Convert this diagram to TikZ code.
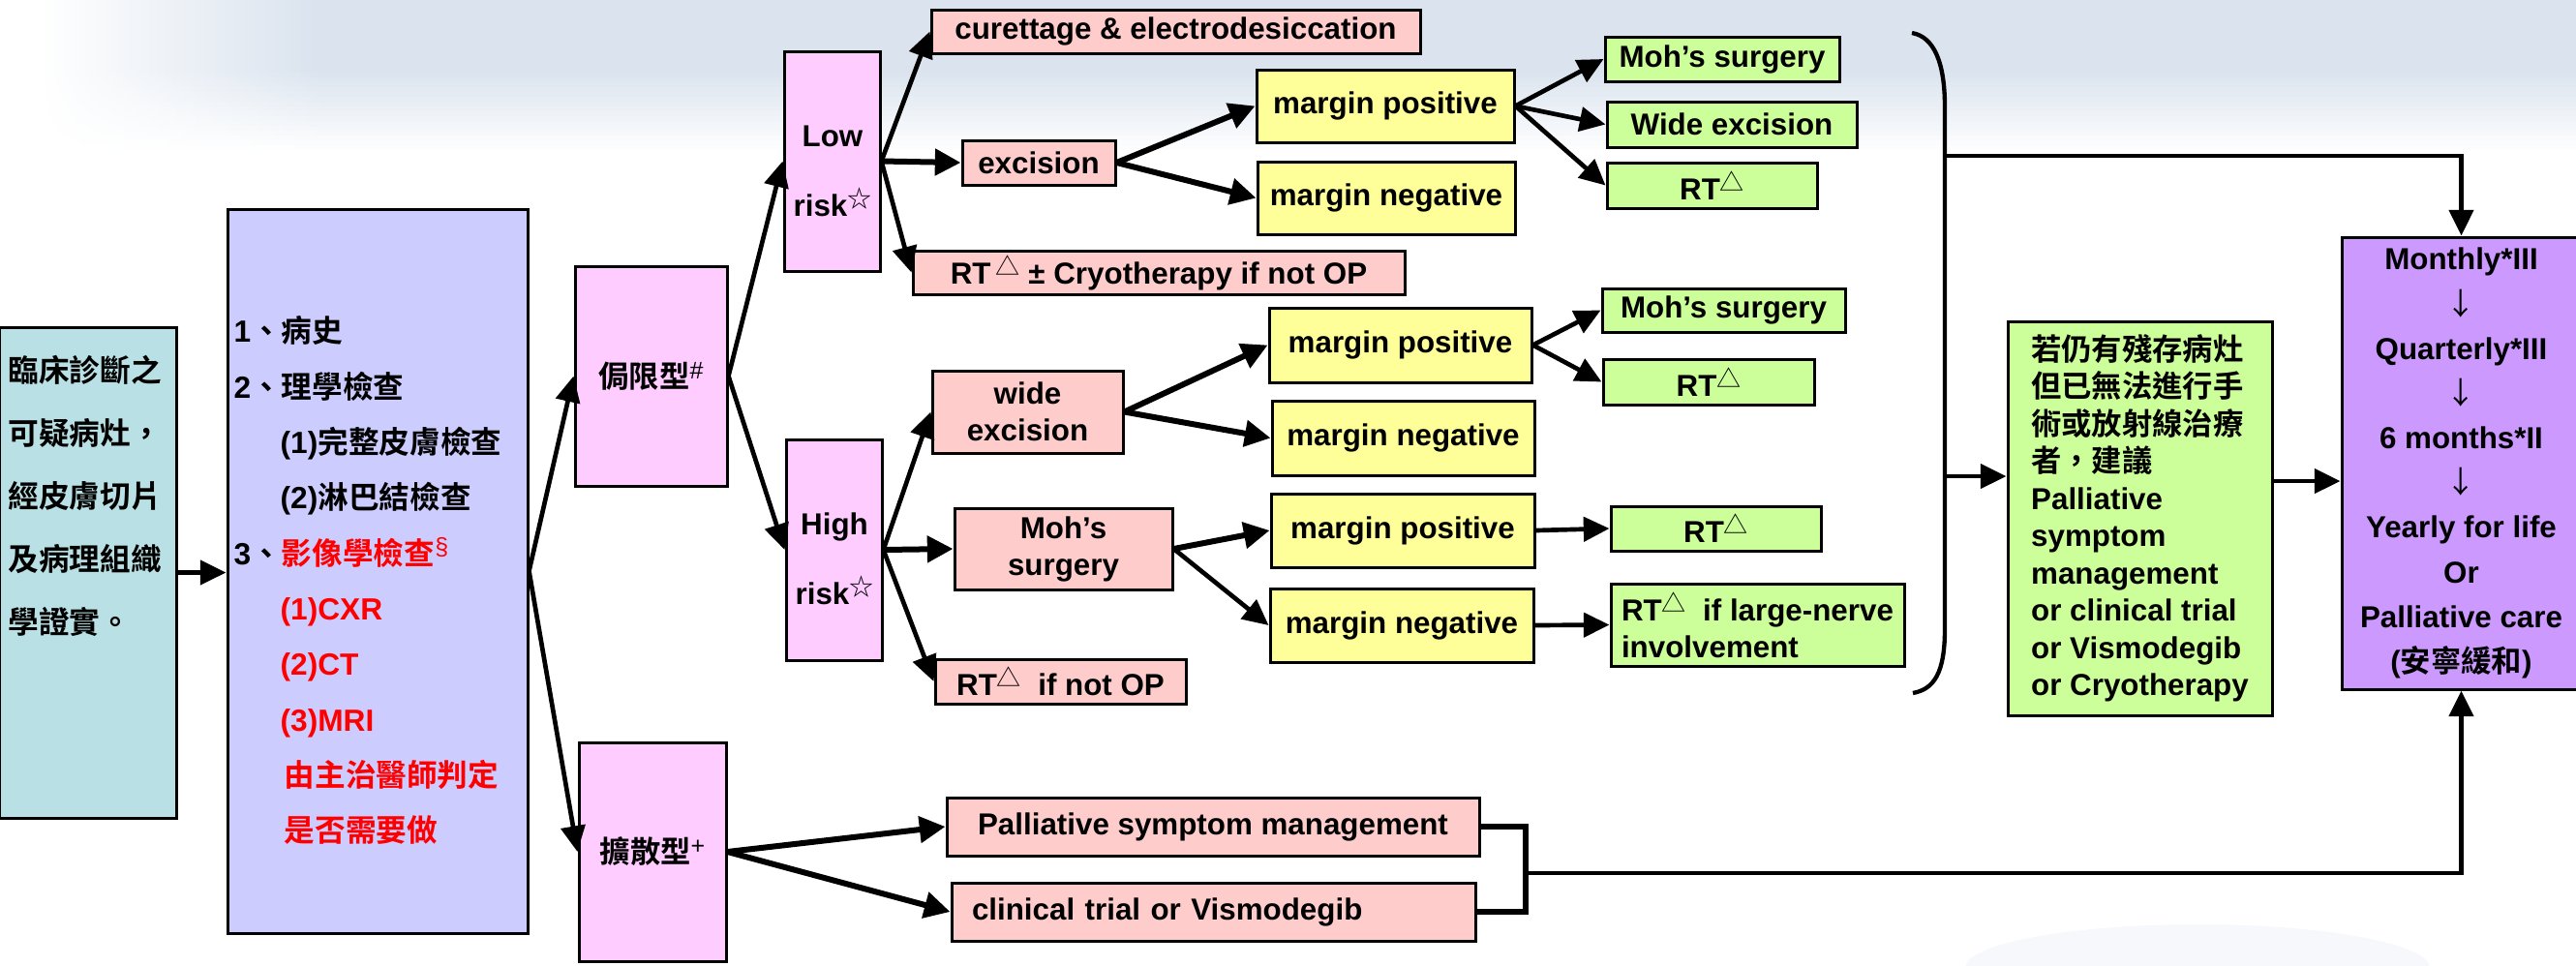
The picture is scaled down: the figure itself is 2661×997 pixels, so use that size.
\documentclass[tikz,border=0pt]{standalone}
\usepackage{fontspec}
\setmainfont{Liberation Sans}
\newfontfamily\cjk{Noto Sans CJK TC}[BoldFont={Noto Sans CJK TC Bold}]
\usetikzlibrary{arrows.meta}
\definecolor{tealfill}{RGB}{185,224,228}
\definecolor{lavfill}{RGB}{204,204,255}
\definecolor{pinkfill}{RGB}{255,204,255}
\definecolor{salmonfill}{RGB}{255,204,204}
\definecolor{yellowfill}{RGB}{255,255,153}
\definecolor{greenfill}{RGB}{204,255,153}
\definecolor{violetfill}{RGB}{204,153,255}
\definecolor{sky}{RGB}{218,227,238}
\definecolor{cloud}{RGB}{246,248,252}
\newcommand\C[1]{{\cjk #1}}
\newcommand\upm[1]{\raisebox{0.55ex}{\fontsize{7.5}{8}\selectfont\mdseries #1}}
\newcommand\mytri{\upm{\cjk △}}
\newcommand\mystar{\upm{\cjk ☆}}
\newcommand\mybox[7]{\node[bx,#2,minimum width={(#5-#3)*0.3pt},minimum height={(#6-#4)*0.3pt}] (#1) at ({(#3+#5)/2},{(#4+#6)/2}) {#7};}
\begin{document}
\begin{tikzpicture}[x=0.3pt,y=-0.3pt,
  every node/.style={font=\fontsize{9.4}{11.4}\selectfont\bfseries, inner sep=0pt},
  bx/.style={draw, line width=0.9pt},
  tealbox/.style={fill=tealfill},
  lavbox/.style={fill=lavfill},
  pinkbox/.style={fill=pinkfill},
  salbox/.style={fill=salmonfill},
  yelbox/.style={fill=yellowfill},
  grnbox/.style={fill=greenfill},
  vioBox/.style={fill=violetfill},
  risktext/.style={align=center, font=\fontsize{9.4}{21.7}\selectfont\bfseries},
  arr/.style={line width=1.4pt, -{Triangle[length=8pt,width=7.5pt]}},
  arrk/.style={line width=1.8pt, -{Triangle[length=8pt,width=8pt]}},
  conn/.style={line width=1.6pt}]
\useasboundingbox (0,0) rectangle (2661,997);
% sky background
\foreach \yy in {0,5,...,160}{
  \pgfmathsetmacro\pp{max(0,min(100,100-(\yy-70)*100/85))}
  \colorlet{skyc}{sky!\pp!white}
  \shade[left color=white, right color=skyc] (40,\yy) rectangle (330,\yy+5.6);
  \fill[skyc] (330,\yy) rectangle (2661,\yy+5.6);
}
\fill[cloud] (2270,1000) ellipse [x radius=240, y radius=45];

% left boxes
\mybox{teal}{tealbox}{0}{338}{182}{845}{}
\node[anchor=north west, align=left, font=\fontsize{9.5}{19.5}\selectfont\bfseries\cjk] (tealt) at (8,367)
  {臨床診斷之\\可疑病灶，\\經皮膚切片\\及病理組織\\學證實。};
\mybox{lav}{lavbox}{235}{216}{545}{964}{}
\node[anchor=north west, align=left, font=\fontsize{9.5}{17.2}\selectfont\bfseries] (lavt) at (241,326)
  {1\C{、病史}\\
   2\C{、理學檢查}\\
   \hspace*{14.4pt}(1)\C{完整皮膚檢查}\\
   \hspace*{14.4pt}(2)\C{淋巴結檢查}\\
   3\C{、}\textcolor{red}{\C{影像學檢查}\upm{§}}\\
   \hspace*{14.4pt}\textcolor{red}{(1)CXR}\\
   \hspace*{14.4pt}\textcolor{red}{(2)CT}\\
   \hspace*{14.4pt}\textcolor{red}{(3)MRI}\\
   \hspace*{15.6pt}\textcolor{red}{\C{由主治醫師判定}}\\
   \hspace*{15.6pt}\textcolor{red}{\C{是否需要做}}};

% type boxes
\mybox{lim}{pinkbox}{594}{275}{751}{502}{\C{侷限型}\upm{\#}}
\mybox{dif}{pinkbox}{598}{767}{750}{993}{\C{擴散型}\upm{+}}
\mybox{low}{pinkbox}{810}{53}{909}{280}{}
\node[risktext] (lowt) at (860,177) {Low\\risk\mystar};
\mybox{high}{pinkbox}{812}{454}{911}{682}{}
\node[risktext] (hight) at (862,577) {High\\risk\mystar};

% low risk branch
\mybox{cur}{salbox}{962}{10}{1467}{55}{curettage \& electrodesiccation}
\mybox{exc}{salbox}{994}{145}{1152}{191}{excision}
\mybox{rtcryo}{salbox}{943}{259}{1451}{304}{RT\,\mytri\ ± Cryotherapy if not OP}
\mybox{mp1}{yelbox}{1298}{72}{1564}{147}{margin positive}
\mybox{mn1}{yelbox}{1299}{167}{1565}{242}{margin negative}
\mybox{moh1}{grnbox}{1658}{38}{1900}{84}{Moh’s surgery}
\mybox{wide1}{grnbox}{1660}{105}{1918}{152}{Wide excision}
\mybox{rt1}{grnbox}{1660}{168}{1877}{215}{RT\mytri}

% high risk branch
\mybox{wexc}{salbox, align=center}{963}{383}{1160}{468}{wide\\excision}
\mybox{mohs}{salbox, align=center}{986}{525}{1211}{609}{Moh’s\\surgery}
\mybox{rtnop}{salbox}{966}{681}{1225}{727}{RT\mytri\ \ if not OP}
\mybox{mp2}{yelbox}{1311}{318}{1582}{395}{margin positive}
\mybox{mn2}{yelbox}{1314}{414}{1585}{491}{margin negative}
\mybox{mp3}{yelbox}{1313}{510}{1585}{586}{margin positive}
\mybox{mn3}{yelbox}{1312}{608}{1584}{684}{margin negative}
\mybox{moh2}{grnbox}{1655}{298}{1906}{343}{Moh’s surgery}
\mybox{rt2}{grnbox}{1656}{371}{1874}{418}{RT\mytri}
\mybox{rt3}{grnbox}{1664}{523}{1881}{569}{RT\mytri}
\mybox{rtlarge}{grnbox, align=left}{1664}{603}{1967}{688}{RT\mytri\ \ if large-nerve\\involvement}

% diffuse branch
\mybox{pal}{salbox}{978}{824}{1528}{884}{Palliative symptom management}
\mybox{clin}{salbox, align=left, text width={(1524-983-42)*0.3pt}}{983}{912}{1524}{972}{clinical trial or Vismodegib}

% right side
\mybox{green}{grnbox, align=left, font=\fontsize{9.4}{11.55}\selectfont\bfseries}{2074}{332}{2347}{739}
  {\C{若仍有殘存病灶}\\\C{但已無法進行手}\\\C{術或放射線治療}\\\C{者，建議}\\Palliative\\symptom\\management\\or clinical trial\\or Vismodegib\\or Cryotherapy}
\mybox{fu}{vioBox, align=center, font=\fontsize{9.4}{13.85}\selectfont\bfseries}{2419}{245}{2666}{712}
  {Monthly*III\\{\cjk\mdseries ↓}\\Quarterly*III\\{\cjk\mdseries ↓}\\6 months*II\\{\cjk\mdseries ↓}\\Yearly for life\\Or\\Palliative care\\(\C{安寧緩和})}

% connectors
\draw[arr] (teal.east) -- (teal.east -| lav.west);
\draw[arr] (lav.east) -- (lim.west);
\draw[arr] (lav.east) -- (dif.west);
\draw[arr] (lim.east) -- (low.west);
\draw[arr] (lim.east) -- (high.west);
\draw[arr] (low.east) -- (cur.west);
\draw[arrk] (low.east) -- (exc.west);
\draw[arr] (low.east) -- (rtcryo.west);
\draw[arrk] (exc.east) -- (mp1.west);
\draw[arrk] (exc.east) -- (mn1.west);
\draw[arr] (mp1.east) -- (moh1.west);
\draw[arr] (mp1.east) -- (wide1.west);
\draw[arr] (mp1.east) -- (rt1.west);
\draw[arr] (high.east) -- (wexc.west);
\draw[arrk] (high.east) -- (mohs.west);
\draw[arr] (high.east) -- (rtnop.west);
\draw[arrk] (wexc.east) -- (mp2.west);
\draw[arrk] (wexc.east) -- (mn2.west);
\draw[arrk] (mohs.east) -- (mp3.west);
\draw[arr] (mohs.east) -- (mn3.west);
\draw[arr] (mp2.east) -- (moh2.west);
\draw[arr] (mp2.east) -- (rt2.west);
\draw[arr] (mp3.east) -- (rt3.west);
\draw[arr] (mn3.east) -- (rtlarge.west);
\draw[arrk] (dif.east) -- (pal.west);
\draw[arrk] (dif.east) -- (clin.west);
\coordinate (jn) at (1576,902);
\draw[conn] (pal.east) -| (jn) |- (clin.east);
\draw[arr] (jn) -| (fu.south);

% bracket
\coordinate (brT) at (1975,34);
\coordinate (brB) at (1976,716);
\coordinate (brU) at (2009,161);
\coordinate (brM) at (2009,492);
\draw[line width=1.3pt] (brT) .. controls (1998,38) and (2009,65) .. (2009,110) -- (2009,650) .. controls (2009,695) and (1998,712) .. (brB);
\draw[arr] (brU) -| (fu.north);
\draw[arr] (brM) -- (brM -| green.west);
\coordinate (gy) at (0,497);
\draw[arr] (green.east |- gy) -- (fu.west |- gy);
\end{tikzpicture}
\end{document}
